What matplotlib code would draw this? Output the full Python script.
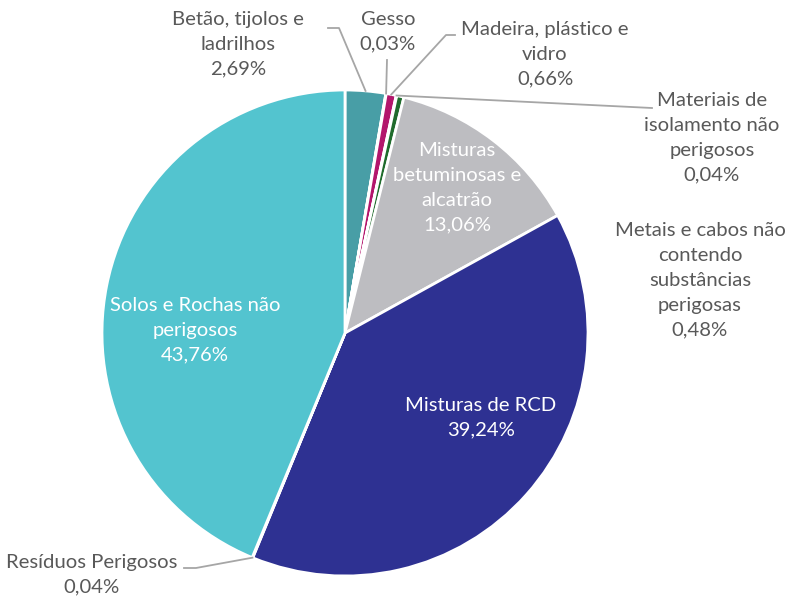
import numpy as np
import matplotlib.pyplot as plt
from matplotlib.lines import Line2D

plt.rcParams['font.family'] = ['Lato', 'DejaVu Sans']

labels = ['Betão, tijolos e\nladrilhos', 'Gesso', 'Madeira, plástico e\nvidro',
          'Materiais de\nisolamento não\nperigosos',
          'Metais e cabos não\ncontendo\nsubstâncias\nperigosas',
          'Misturas\nbetuminosas e\nalcatrão', 'Misturas de RCD',
          'Resíduos Perigosos', 'Solos e Rochas não\nperigosos']
values = [2.69, 0.03, 0.66, 0.04, 0.48, 13.06, 39.24, 0.04, 43.76]
colors = ['#489EA6', '#7A7A7A', '#B3166C', '#D9D9D9', '#1F6B2C',
          '#BDBDC1', '#2E3192', '#7F7F7F', '#53C4CF']

W, H = 791, 601
cx, cy, r = 345, 333, 243
fig = plt.figure(figsize=(W / 100, H / 100), dpi=100)
ax = fig.add_axes([(cx - r) / W, (H - cy - r) / H, 2 * r / W, 2 * r / H])
wedges, _ = ax.pie(values, colors=colors, startangle=90, counterclock=False,
                   radius=1, wedgeprops=dict(edgecolor='white', linewidth=2))
ax.set_xlim(-1, 1)
ax.set_ylim(-1, 1)
ax.set_aspect('equal')
ax.axis('off')

txt = '#595959'
line_c = '#A6A6A6'


def pct(v):
    return f'{v:.2f}%'.replace('.', ',')


def fmt(i):
    return labels[i] + '\n' + pct(values[i])


def edge_pt(i, rr=1.0):
    w = wedges[i]
    a = np.deg2rad((w.theta1 + w.theta2) / 2)
    x, y = rr * np.cos(a), rr * np.sin(a)
    return ax.transData.transform((x, y))


def put(x, y, s, color=txt, ha='center', va='top'):
    fig.text(x / W, 1 - y / H, s, color=color, fontsize=14.6, ha=ha, va=va,
             linespacing=1.56)


def leader(pts):
    xs = [p[0] for p in pts]
    ys = [p[1] for p in pts]
    fig.add_artist(Line2D(xs, ys, color=line_c, lw=1.3, transform=None))


# outside labels
put(238, 11, fmt(0))
p = edge_pt(0)
leader([(p[0], p[1]), (339, H - 28), (328, H - 28)])

put(388, 11, fmt(1))
p = edge_pt(1)
leader([(p[0], p[1]), (387, H - 60)])

put(545, 21, fmt(2))
p = edge_pt(2)
leader([(p[0], p[1]), (446, H - 35), (455, H - 35)])

put(712, 92, fmt(3))
p = edge_pt(3)
leader([(p[0], p[1]), (652, H - 108)])

put(700, 222, fmt(4))

put(92, 554, fmt(7))
p = edge_pt(7)
leader([(p[0], p[1]), (196, H - 568), (184, H - 568)])

# inside labels
put(457, 142, fmt(5), color='white')
put(481, 397, fmt(6), color='white')
put(195, 297, fmt(8), color='white')

fig.savefig('out.png', dpi=100)
